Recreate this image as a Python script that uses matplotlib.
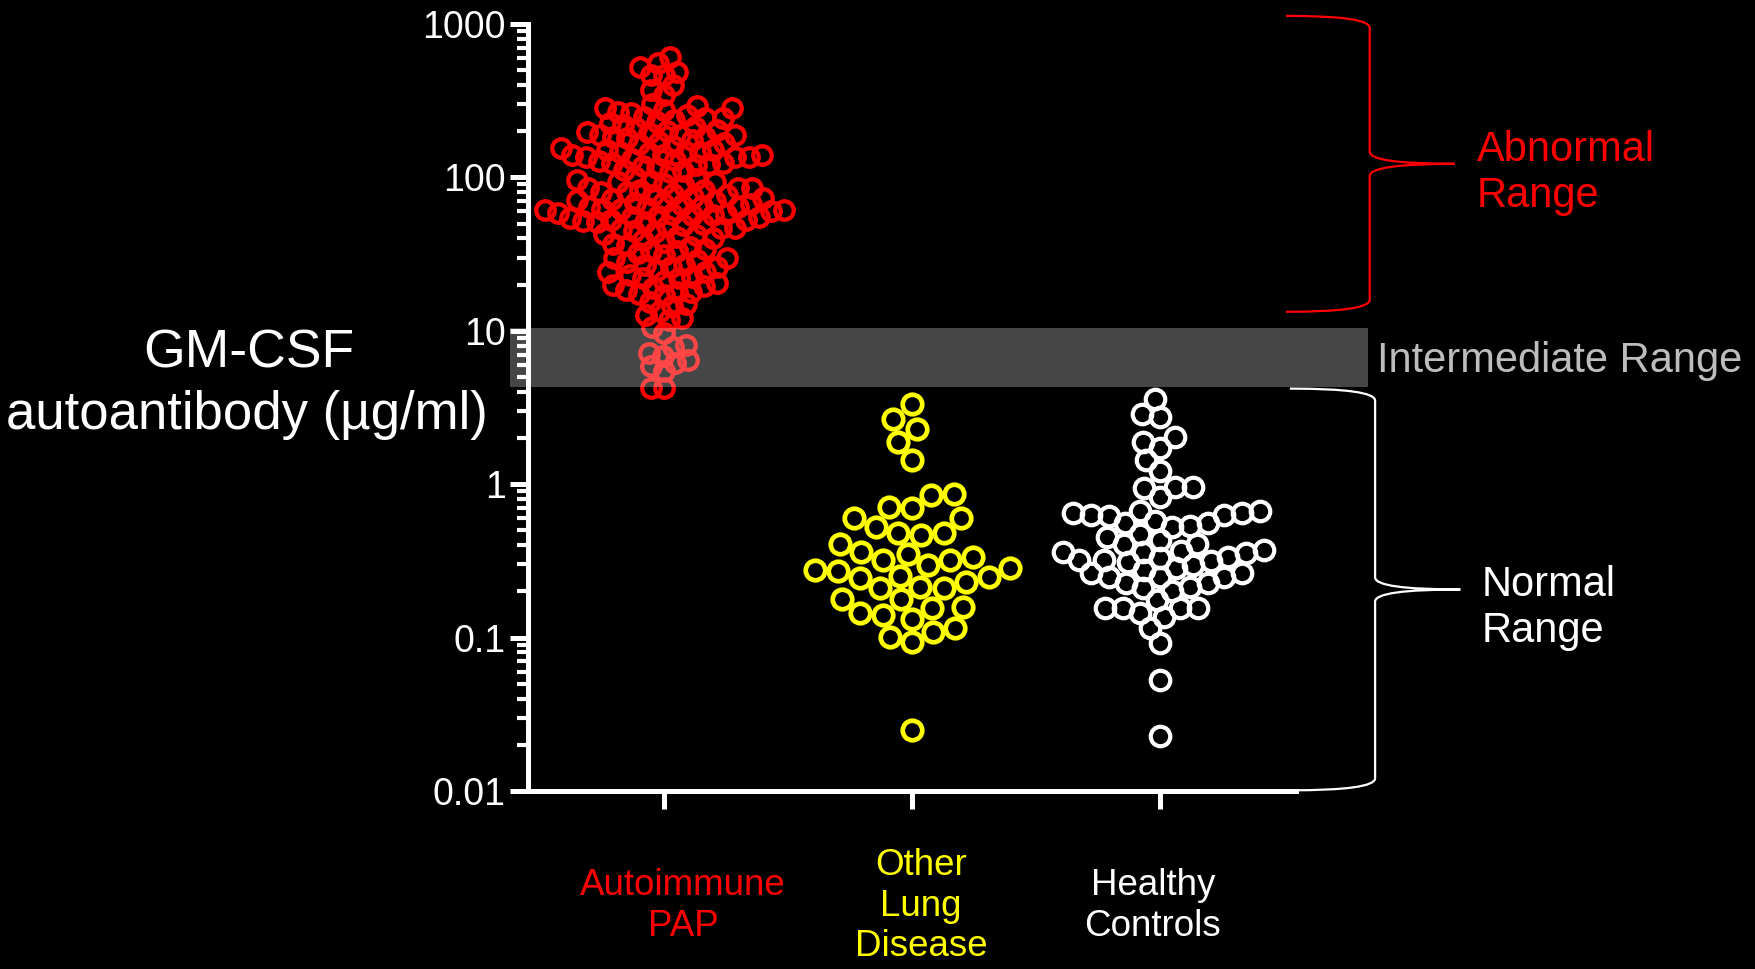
import numpy as np
import matplotlib.pyplot as plt
from matplotlib.patches import Rectangle, PathPatch
from matplotlib.path import Path
from matplotlib import transforms

plt.rcParams['font.family'] = ['Liberation Sans', 'DejaVu Sans']

# GM-CSF autoantibody (ug/ml)
pap = [610, 557, 525, 487, 466, 466, 400, 371, 345,
       300, 290, 283, 283, 275, 267, 263, 255, 248, 244, 244, 237, 230, 226, 220, 213, 210, 204, 200,
       198, 195, 190, 189, 189, 183, 183, 181, 175, 170, 168, 165, 160,
       155, 150, 150, 146, 146, 146, 145, 140, 140, 140, 136, 136, 135, 132, 130,
       128, 125, 124, 122, 120, 118, 115, 112, 110, 108, 100, 98, 96, 95,
       93, 93, 90, 88, 85, 85, 85, 83, 83, 80, 80, 78, 77, 77, 75, 73, 72, 71, 70, 68, 68, 67, 66,
       65, 64, 64, 63, 62, 62, 61, 61, 60, 59, 58, 58, 57, 57, 56, 55, 55, 54, 53, 53, 52, 51, 51, 50,
       49, 48, 47, 47, 46, 45, 44, 43, 42, 41, 40, 39, 38, 37, 36,
       35, 34, 33, 33, 32, 31, 30, 30, 29, 28, 27, 27, 26, 26, 25,
       24, 24, 23, 22.5, 22, 22, 21, 20.5, 20, 19.5, 19, 18.5, 18, 18, 17.5, 17,
       15.5, 15, 14.5, 13.5, 12.7, 12.2, 11.7,
       10.6, 9.7, 8.1, 7.8, 7.2, 6.8, 6.45, 6.2, 5.9, 5.5, 4.25, 4.25]
other_lung = [3.33, 2.65, 2.29, 1.89, 1.44, 0.851, 0.863, 0.713, 0.696, 0.600, 0.600,
              0.524, 0.467, 0.483, 0.479, 0.408, 0.337, 0.360, 0.351, 0.321, 0.321, 0.297,
              0.276, 0.283, 0.273, 0.247, 0.253, 0.244, 0.229, 0.209, 0.215, 0.209, 0.179,
              0.178, 0.155, 0.159, 0.145, 0.140, 0.132, 0.115, 0.108, 0.1005, 0.093, 0.025]
healthy = [3.57, 2.85, 2.75, 1.89, 2.02, 1.73, 1.44, 1.22, 0.94, 0.955, 0.964, 0.83,
           0.646, 0.621, 0.578, 0.630, 0.668, 0.671, 0.630, 0.646, 0.536, 0.528, 0.556, 0.556,
           0.473, 0.451, 0.433, 0.406, 0.407, 0.372, 0.355, 0.367, 0.363, 0.360, 0.321, 0.329,
           0.337, 0.321, 0.316, 0.313, 0.297, 0.276, 0.283, 0.249, 0.247, 0.247, 0.262, 0.262,
           0.226, 0.226, 0.202, 0.209, 0.215, 0.176, 0.144, 0.155, 0.137, 0.155, 0.155, 0.155,
           0.115, 0.092, 0.053, 0.023]

groups = [pap, other_lung, healthy]
group_names = ['Autoimmune\nPAP', 'Other\nLung\nDisease', 'Healthy\nControls']
group_colors = ['#ff0000', '#ffff00', '#ffffff']
swarm_gap = [13.5, 23, 18]        # min centre distance in px
marker_px = [18.5, 19.5, 19.5]
edge_px = [4.3, 4.7, 4.2]

intermediate = (4.3, 10.5)
abnormal_brace = (13.3, 1130)
normal_brace = (0.0101, 4.2)

W, H = 1756, 969
fig = plt.figure(figsize=(W / 100, H / 100), dpi=100, facecolor='black')
ax = fig.add_axes([528 / W, 1 - 791 / H, (1296 - 528) / W, (791 - 24) / H])
ax.set_facecolor('black')
ax.set_yscale('log')
ax.set_ylim(0.01, 1000)
ax.set_xlim(0.4516, 3.548)

for s in ['top', 'right']:
    ax.spines[s].set_visible(False)
for s in ['left', 'bottom']:
    ax.spines[s].set_color('white')
    ax.spines[s].set_linewidth(3.6)

ax.set_yticks([0.01, 0.1, 1, 10, 100, 1000], ['0.01', '0.1', '1', '10', '100', '1000'])
ax.set_xticks([1, 2, 3], ['', '', ''])
ax.tick_params(which='major', colors='white', length=13, width=3.6, labelsize=27, pad=3)
ax.tick_params(axis='y', which='minor', colors='white', length=8, width=3)


def swarm(vals, gap):
    # simple beeswarm in pixel space, returns x offsets in data units
    y = ax.transData.transform(np.column_stack([np.ones(len(vals)), vals]))[:, 1]
    px_per_unit = ax.transData.transform((2, 1))[0] - ax.transData.transform((1, 1))[0]
    order = np.argsort(y)
    placed = []
    xs = np.zeros(len(vals))
    for i in order:
        yi = y[i]
        cands = [0.0]
        near = [(px, py) for px, py in placed if abs(py - yi) < gap]
        for px, py in near:
            dx = np.sqrt(gap ** 2 - (py - yi) ** 2)
            cands += [px - dx, px + dx]
        cands.sort(key=lambda c: (abs(c), c))
        for c in cands:
            if all((c - px) ** 2 + (yi - py) ** 2 >= gap ** 2 - 1e-6 for px, py in near):
                xs[i] = c
                placed.append((c, yi))
                break
    return xs / px_per_unit


for k, vals in enumerate(groups):
    off = swarm(vals, swarm_gap[k])
    ax.plot(k + 1 + off, vals, ls='none', marker='o', mfc='none', mec=group_colors[k],
            ms=marker_px[k] * 0.72, mew=edge_px[k] * 0.72, zorder=3, clip_on=False)

blend = transforms.blended_transform_factory(ax.transAxes, ax.transData)
ax.add_patch(Rectangle((-0.0234, intermediate[0]), 1.117, intermediate[1] - intermediate[0],
                       transform=blend, facecolor='white', alpha=0.28, lw=0, zorder=5, clip_on=False))


def brace(x0, x1, x2, ylo, yhi, color):
    p0 = blend.transform((x0, yhi))
    p1 = blend.transform((x1, ylo))
    p2 = blend.transform((x2, ylo))
    top, bot = p0[1], p1[1]
    mid = (top + bot) / 2
    r = 12
    xl, xs, xt = p0[0], p1[0], p2[0]
    verts = [(xl, top), (xs, top), (xs, top - r), (xs, mid + r), (xs, mid), (xt, mid),
             (xs, mid), (xs, mid - r), (xs, bot + r), (xs, bot), (xl, bot)]
    codes = [Path.MOVETO, Path.CURVE3, Path.CURVE3, Path.LINETO, Path.CURVE3, Path.CURVE3,
             Path.CURVE3, Path.CURVE3, Path.LINETO, Path.CURVE3, Path.CURVE3]
    fig.add_artist(PathPatch(Path(verts, codes), fill=False, edgecolor=color, lw=1.6,
                             transform=transforms.IdentityTransform()))


brace(0.987, 1.096, 1.207, abnormal_brace[0], abnormal_brace[1], '#ff0000')
brace(0.992, 1.103, 1.214, normal_brace[0], normal_brace[1], 'white')

fig.text(1477 / W, 1 - 207 / H, 'Abnormal\nRange', color='#ff0000', fontsize=30, va='baseline')
fig.text(1377 / W, 1 - 372 / H, 'Intermediate Range', color='#bdbdbd', fontsize=30, va='baseline')
fig.text(1482 / W, 1 - 642 / H, 'Normal\nRange', color='white', fontsize=30, va='baseline')

# y label, two separate lines
fig.text(249 / W, 1 - 368 / H, 'GM-CSF', color='white', fontsize=38.5, ha='center', va='baseline')
fig.text(247 / W, 1 - 429 / H, 'autoantibody (µg/ml)', color='white', fontsize=38,
         ha='center', va='baseline')

label_x = [683, 921, 1153]
for k, name in enumerate(group_names):
    fig.text(label_x[k] / W, 1 - 906 / H, name, color=group_colors[k], fontsize=26.5,
             ha='center', va='center', multialignment='center')

fig.savefig('out.png', facecolor='black')
